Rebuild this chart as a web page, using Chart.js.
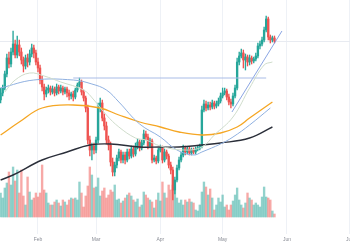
<!DOCTYPE html>
<html>
<head>
<meta charset="utf-8">
<script src="https://cdn.jsdelivr.net/npm/chart.js@4/dist/chart.umd.min.js"></script>
<style>
  html, body { margin: 0; padding: 0; background: #ffffff; }
  #wrap { width: 350px; height: 250px; }
</style>
</head>
<body>
<div id="wrap"><canvas id="myChart"></canvas></div>
<script>
// day-of-year of the first candle (Jan 13), one candle per day
const firstDay = 13;

const open = [141,148,153,167,183,177,189,197,186,196,
  189,181,175,183,179,187,193,188,179,173,
  161,154,147,151,153,149,152,148,154,150,
  153,149,152,148,145,147,144,151,156,159,
  149,143,133,101,91,95,91,101,133,138,
  123,115,101,96,79,69,76,83,89,81,
  86,81,89,85,92,87,95,99,93,98,
  107,104,95,100,81,83,80,91,93,81,
  89,85,76,71,51,61,73,81,86,93,
  89,92,88,91,89,92,93,95,131,137,
  133,136,134,138,135,137,140,145,148,150,
  144,139,137,145,153,179,185,188,181,184,
  179,183,180,182,185,195,197,201,211,222,
  204,201,203];
const close = [148,153,167,183,177,189,197,186,196,189,
  181,175,183,179,187,193,188,179,173,161,
  154,147,151,153,149,152,148,154,150,153,
  149,152,148,145,147,144,151,156,159,149,
  143,133,101,91,95,91,101,133,138,123,
  115,101,96,79,69,76,83,89,81,86,
  81,89,85,92,87,95,99,93,98,107,
  104,95,100,81,83,80,91,93,81,89,
  85,76,71,51,61,73,81,86,93,89,
  92,88,91,89,92,93,95,131,137,133,
  136,134,138,135,137,140,145,148,150,144,
  139,137,145,153,179,185,188,181,184,179,
  183,180,182,185,195,197,201,211,222,204,
  201,203,200];
const high = [153,156,170,187,189,193,210,201,205,201,
  193,184,186,187,191,197,196,191,183,176,
  165,157,154,156,155,155,154,157,156,156,
  155,154,154,151,149,150,153,158,163,161,
  151,145,136,105,98,98,104,138,143,141,
  127,119,105,99,83,79,86,92,91,89,
  89,92,92,95,95,98,102,101,101,111,
  110,107,103,102,86,85,93,96,95,92,
  91,87,79,74,64,76,84,89,96,95,
  94,94,93,93,94,95,97,135,141,140,
  139,139,141,140,140,143,148,153,153,152,
  147,142,148,156,183,189,192,191,187,186,
  186,185,184,188,198,200,204,214,225,224,
  206,205,205];
const low = [138,145,151,164,173,174,186,183,183,185,
  177,169,172,174,176,184,183,176,169,157,
  150,141,144,148,146,147,145,146,147,148,
  146,147,144,141,142,140,142,149,154,146,
  140,129,97,85,81,87,88,98,129,120,
  111,97,91,75,65,65,73,80,78,78,
  77,79,82,83,84,85,92,90,91,96,
  101,92,93,78,79,77,78,89,78,79,
  82,73,67,41,47,59,71,79,84,86,
  87,86,86,87,87,90,91,93,129,130,
  131,131,132,132,133,135,138,143,146,141,
  136,133,135,143,151,176,183,173,171,175,
  176,177,178,180,183,192,195,199,209,201,
  198,199,198];
const volume = [48,38,58,68,90,64,100,72,94,48,
  94,42,24,80,50,34,38,48,40,48,
  104,54,48,28,24,24,30,34,28,22,
  34,30,24,34,38,36,38,34,70,48,
  20,42,62,100,84,58,60,78,42,52,
  58,38,44,54,50,64,34,36,28,32,
  38,44,48,42,34,30,36,20,24,50,
  44,38,34,30,18,34,48,32,70,48,
  38,64,54,64,54,38,28,34,24,34,
  30,36,30,28,14,12,24,50,70,60,
  44,56,38,14,24,38,30,44,20,24,
  14,24,32,44,58,34,24,18,28,48,
  38,34,24,28,24,20,40,60,40,38,
  34,12,6];

// moving averages, read at a few days each
const ma200Days = [13,19,33,45,56,66,80,90,99,110,119,133,144];
const ma200 = [61,66,81,89,96,97,94,94,94,96,98,103,114];
const ma100Days = [13,22,33,48,61,70,80,90,99,110,119,127,133,144];
const ma100 = [106,119,133,136,133,126,119,114,109,106,108,114,123,139];
const ma50Days = [13,29,48,57,64,70,80,90,98,106,110,119,125,133,143];
const ma50 = [153,161,161,157,151,139,117,104,91,86,89,97,104,116,133];
const ma20Days = [15,20,27,34,42,53,58,64,70,78,83,90,101,110,116,125,133,140,144];
const ma20 = [149,161,168,165,159,151,141,126,114,103,101,95,91,94,106,124,153,176,179];

// drawn lines
const levelDays = [48,141];
const level = [163,163];
const trendDays = [124.5,148.6];
const trend = [129,210];

// RSI
const rsiDays = [13,22,32,42,51,56,59.5,63,70,80,85,90,95,96,99,104,109,111,119,126,128,136,140,143,145];
const rsi = [53,56,53,50,53,47,36,47,53,50,47,47,44,41,50,53,56,64,61,59,64,61,67,64,59];

const monthDays = [31,59,90,120,151,181];
const monthNames = ["Feb","Mar","Apr","May","Jun","Jul"];

const UP = "#26a69a", DOWN = "#ef5350";
const days = close.map((_, i) => firstDay + i);
const isUp = close.map((c, i) => c >= open[i]);
const pts = (xs, ys) => xs.map((x, i) => ({ x: x, y: ys[i] }));

function line(xs, ys, color, width) {
    return {
        type: "line",
        data: pts(xs, ys),
        borderColor: color,
        borderWidth: width,
        pointRadius: 0,
        tension: 0.4,
        fill: false,
        yAxisID: "y",
        order: 1
    };
}

new Chart("myChart", {
    data: {
        datasets: [
            {
                type: "line",
                data: [{ x: 12.7, y: 70 }, { x: 181.4, y: 70 }],
                borderWidth: 0,
                pointRadius: 0,
                backgroundColor: "rgba(126,87,194,0.1)",
                fill: "start",
                yAxisID: "rsi",
                order: 9
            },
            {
                type: "line",
                data: pts(rsiDays, rsi),
                borderColor: "#a39bb5",
                borderWidth: 0.8,
                pointRadius: 0,
                tension: 0.3,
                yAxisID: "rsi",
                order: 4
            },
            {
                type: "bar",
                data: days.map((d, i) => ({ x: d, y: volume[i] })),
                backgroundColor: isUp.map(u => u ? "rgba(38,166,154,0.5)" : "rgba(239,83,80,0.5)"),
                barThickness: 1.7,
                grouped: false,
                yAxisID: "vol",
                order: 8
            },
            {
                type: "bar",
                data: days.map((d, i) => ({ x: d, y: [low[i], high[i]] })),
                backgroundColor: isUp.map(u => u ? UP : DOWN),
                barThickness: 0.7,
                grouped: false,
                yAxisID: "y",
                order: 3
            },
            {
                type: "bar",
                data: days.map((d, i) => ({ x: d, y: [open[i], close[i]] })),
                backgroundColor: isUp.map(u => u ? UP : DOWN),
                barThickness: 1.7,
                minBarLength: 1,
                grouped: false,
                yAxisID: "y",
                order: 2
            },
            line(ma20Days, ma20, "#cfdccb", 1),
            line(ma50Days, ma50, "#8fb0e0", 1),
            line(ma100Days, ma100, "#f5a623", 1.3),
            line(ma200Days, ma200, "#2a2e39", 1.4),
            Object.assign(line(levelDays, level, "#a9bce6", 1), { tension: 0 }),
            Object.assign(line(trendDays, trend, "#7d9be0", 0.9), { tension: 0 })
        ]
    },
    options: {
        responsive: true,
        maintainAspectRatio: false,
        animation: false,
        devicePixelRatio: 1,
        layout: { padding: 0 },
        plugins: {
            legend: { display: false },
            tooltip: { enabled: false }
        },
        scales: {
            x: {
                type: "linear",
                offset: false,
                min: 12.7,
                max: 181.4,
                afterBuildTicks: ax => { ax.ticks = monthDays.map(v => ({ value: v })); },
                afterFit: ax => { ax.height = 16; ax.paddingLeft = 0; ax.paddingRight = 0; },
                ticks: {
                    callback: (v, i) => monthNames[i],
                    font: { size: 5, family: "Liberation Sans" },
                    color: "#8a8d96",
                    padding: 3,
                    maxRotation: 0,
                    autoSkip: false
                },
                grid: { color: "#eef1f6", drawTicks: false, offset: false },
                border: { display: false }
            },
            y: {
                position: "right",
                min: 7,
                max: 241,
                afterBuildTicks: ax => { ax.ticks = [{ value: 200 }]; },
                afterFit: ax => { ax.width = 0; },
                ticks: { display: false },
                grid: { color: "#e8ebf1", drawTicks: false },
                border: { display: false }
            },
            vol: { display: false, min: -34, max: 434 },
            rsi: { display: false, min: 30, max: 698.6 }
        }
    }
});
</script>
</body>
</html>
